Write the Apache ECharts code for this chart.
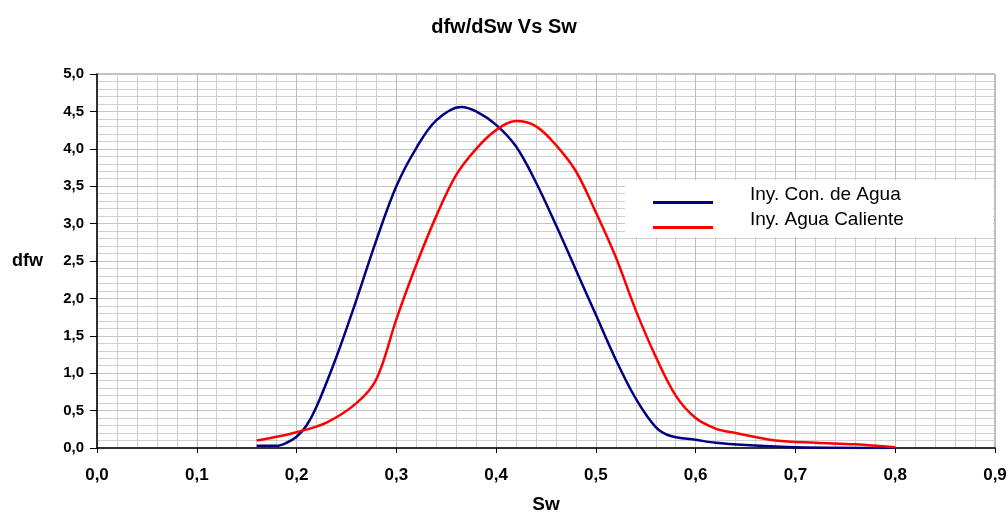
<!DOCTYPE html>
<html>
<head>
<meta charset="utf-8">
<title>dfw/dSw Vs Sw</title>
<script src="https://cdn.jsdelivr.net/npm/echarts@6/dist/echarts.min.js"></script>
<style>
  html, body { margin: 0; padding: 0; background: #fff; }
  #chart { width: 1008px; height: 512px; }
</style>
</head>
<body>
<div id="chart"></div>
<script>
// Sw values and dfw/dSw for cold-water injection (blue)
const swCold = [0.16, 0.18, 0.19, 0.20, 0.21, 0.22, 0.24, 0.26, 0.28, 0.30, 0.32, 0.34, 0.365, 0.38, 0.40, 0.42, 0.44, 0.46, 0.48, 0.50, 0.52, 0.54, 0.56, 0.575, 0.60, 0.62, 0.65, 0.70, 0.80];
const dfwCold = [0.03, 0.03, 0.07, 0.15, 0.30, 0.55, 1.22, 1.98, 2.78, 3.50, 4.01, 4.38, 4.56, 4.50, 4.32, 4.03, 3.55, 2.98, 2.38, 1.78, 1.18, 0.66, 0.28, 0.16, 0.11, 0.07, 0.04, 0.01, 0.00];

// Sw values and dfw/dSw for hot-water injection (red)
const swHot = [0.16, 0.18, 0.20, 0.23, 0.26, 0.28, 0.30, 0.32, 0.34, 0.36, 0.38, 0.40, 0.42, 0.44, 0.46, 0.48, 0.50, 0.52, 0.54, 0.56, 0.58, 0.60, 0.62, 0.64, 0.68, 0.72, 0.76, 0.80];
const dfwHot = [0.10, 0.15, 0.21, 0.34, 0.60, 0.92, 1.72, 2.45, 3.10, 3.65, 4.00, 4.25, 4.37, 4.30, 4.05, 3.70, 3.15, 2.55, 1.84, 1.22, 0.70, 0.40, 0.26, 0.20, 0.10, 0.07, 0.05, 0.01];

const seriesNames = ['Iny. Con. de Agua', 'Iny. Agua Caliente'];

const pair = (xs, ys) => xs.map((x, i) => [x, ys[i]]);
const comma = v => v.toFixed(1).replace('.', ',');
const FONT = 'Arial, "Liberation Sans", sans-serif';

const chart = echarts.init(document.getElementById('chart'), null, { renderer: 'canvas' });
chart.setOption({
  animation: false,
  backgroundColor: '#ffffff',
  title: {
    text: 'dfw/dSw Vs Sw',
    left: 'center',
    top: 12,
    textStyle: { fontFamily: FONT, fontSize: 20, fontWeight: 'bold', color: '#000' }
  },
  grid: {
    left: 97, right: 13, top: 74, bottom: 64,
    outerBoundsMode: 'none',
    containLabel: false,
    show: true, borderColor: '#808080', borderWidth: 1, backgroundColor: 'transparent'
  },
  // white panel behind the legend entries
  graphic: [{
    type: 'rect', left: 625, top: 180, z: 3,
    shape: { width: 368, height: 57 },
    style: { fill: '#ffffff' }
  }],
  legend: {
    orient: 'vertical',
    left: 625, top: 180,
    padding: [5, 0, 0, 28],
    z: 4,
    itemWidth: 60, itemHeight: 3, itemGap: -3,
    icon: 'rect',
    // the entry text sits a little above its line sample
    formatter: name => '{t|' + name + '}\n{s| }',
    textStyle: {
      fontFamily: FONT, color: '#000', padding: [0, 0, 0, 32],
      rich: {
        t: { fontFamily: FONT, fontSize: 19, lineHeight: 20, color: '#000' },
        s: { fontSize: 1, lineHeight: 16 }
      }
    },
    data: seriesNames
  },
  xAxis: {
    type: 'value',
    min: 0, max: 0.9, interval: 0.1,
    name: 'Sw', nameLocation: 'middle', nameGap: 47,
    nameTextStyle: { fontFamily: FONT, fontSize: 19, fontWeight: 'bold', color: '#000' },
    axisLine: { lineStyle: { color: '#000', width: 1.5 } },
    axisTick: { show: true, length: 5, inside: false, lineStyle: { color: '#000' } },
    axisLabel: { formatter: comma, margin: 19, fontFamily: FONT, fontSize: 17, fontWeight: 'bold', color: '#000' },
    splitLine: { show: true, lineStyle: { color: '#bdbdbd', width: 1 } },
    minorTick: { show: false, splitNumber: 5 },
    minorSplitLine: { show: true, lineStyle: { color: '#cfcfcf', width: 1 } }
  },
  yAxis: {
    type: 'value',
    min: 0, max: 5, interval: 0.5,
    name: 'dfw', nameLocation: 'middle', nameGap: 54, nameRotate: 0,
    nameTextStyle: { fontFamily: FONT, fontSize: 18, fontWeight: 'bold', color: '#000' },
    axisLine: { show: true, lineStyle: { color: '#000', width: 1.5 } },
    axisTick: { show: true, length: 7, lineStyle: { color: '#000' } },
    axisLabel: { formatter: comma, margin: 13, fontFamily: FONT, fontSize: 15, fontWeight: 'bold', color: '#000' },
    splitLine: { show: true, lineStyle: { color: '#c4c4c4', width: 1 } },
    minorTick: { show: false, splitNumber: 5 },
    minorSplitLine: { show: true, lineStyle: { color: '#cfcfcf', width: 1 } }
  },
  series: [
    {
      name: seriesNames[0], type: 'line', smooth: 0.35, showSymbol: false,
      data: pair(swCold, dfwCold),
      lineStyle: { color: '#000080', width: 2.5 }, itemStyle: { color: '#000080' }, z: 2
    },
    {
      name: seriesNames[1], type: 'line', smooth: 0.35, showSymbol: false,
      data: pair(swHot, dfwHot),
      lineStyle: { color: '#ff0000', width: 2.5 }, itemStyle: { color: '#ff0000' }, z: 2
    }
  ]
});
</script>
</body>
</html>
